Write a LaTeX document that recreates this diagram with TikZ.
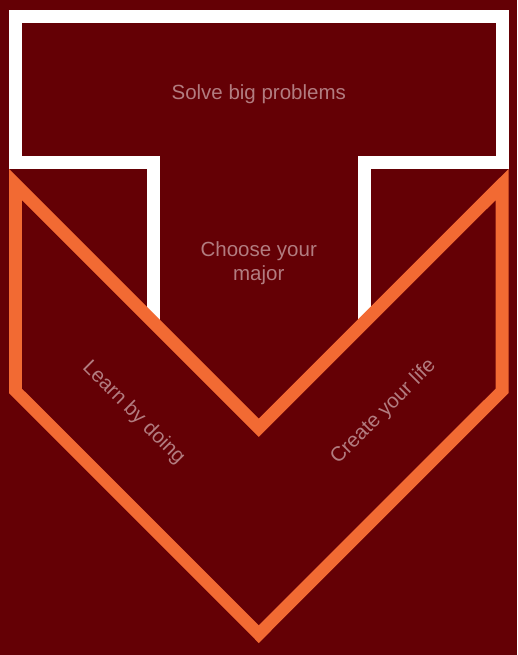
\documentclass[tikz,border=0pt]{standalone}
\usepackage{fontspec}
\setmainfont{Liberation Sans}
\definecolor{bg}{HTML}{640005}
\definecolor{vorange}{HTML}{F26A33}
\definecolor{txt}{HTML}{B27C80}
\begin{document}
\begin{tikzpicture}[x=1pt,y=-1pt,
  lbl/.style={text=txt, font=\fontsize{20.5}{24}\selectfont, inner sep=0pt, align=center}]
\fill[bg] (0,0) rectangle (517,655);
\useasboundingbox (0,0) rectangle (517,655);
% T outline
\draw[white, line width=13pt, line join=miter]
  (15.5,16.5) -- (502,16.5) -- (502,162.5) -- (364,162.5) -- (364,520)
  -- (153.5,520) -- (153.5,162.5) -- (15.5,162.5) -- cycle;
% orange chevron
\fill[vorange] (9,169) -- (9,393) -- (258.75,643) -- (508.5,393) -- (508.5,169)
  -- (258.75,418.5) -- cycle;
\fill[bg] (22,200.5) -- (22,388.5) -- (258.75,625) -- (495.5,388.5) -- (495.5,200.5)
  -- (258.75,437) -- cycle;
% labels
\node[lbl, anchor=base] (solve) at (258.75,99.5) {Solve big problems};
\node[lbl] (major) at (258.75,263) {Choose your\\major};
\node[lbl, rotate=-45] (learn) at (133.5,413) {Learn by doing};
\node[lbl, rotate=45] (create) at (383.5,412) {Create your life};
\end{tikzpicture}
\end{document}
